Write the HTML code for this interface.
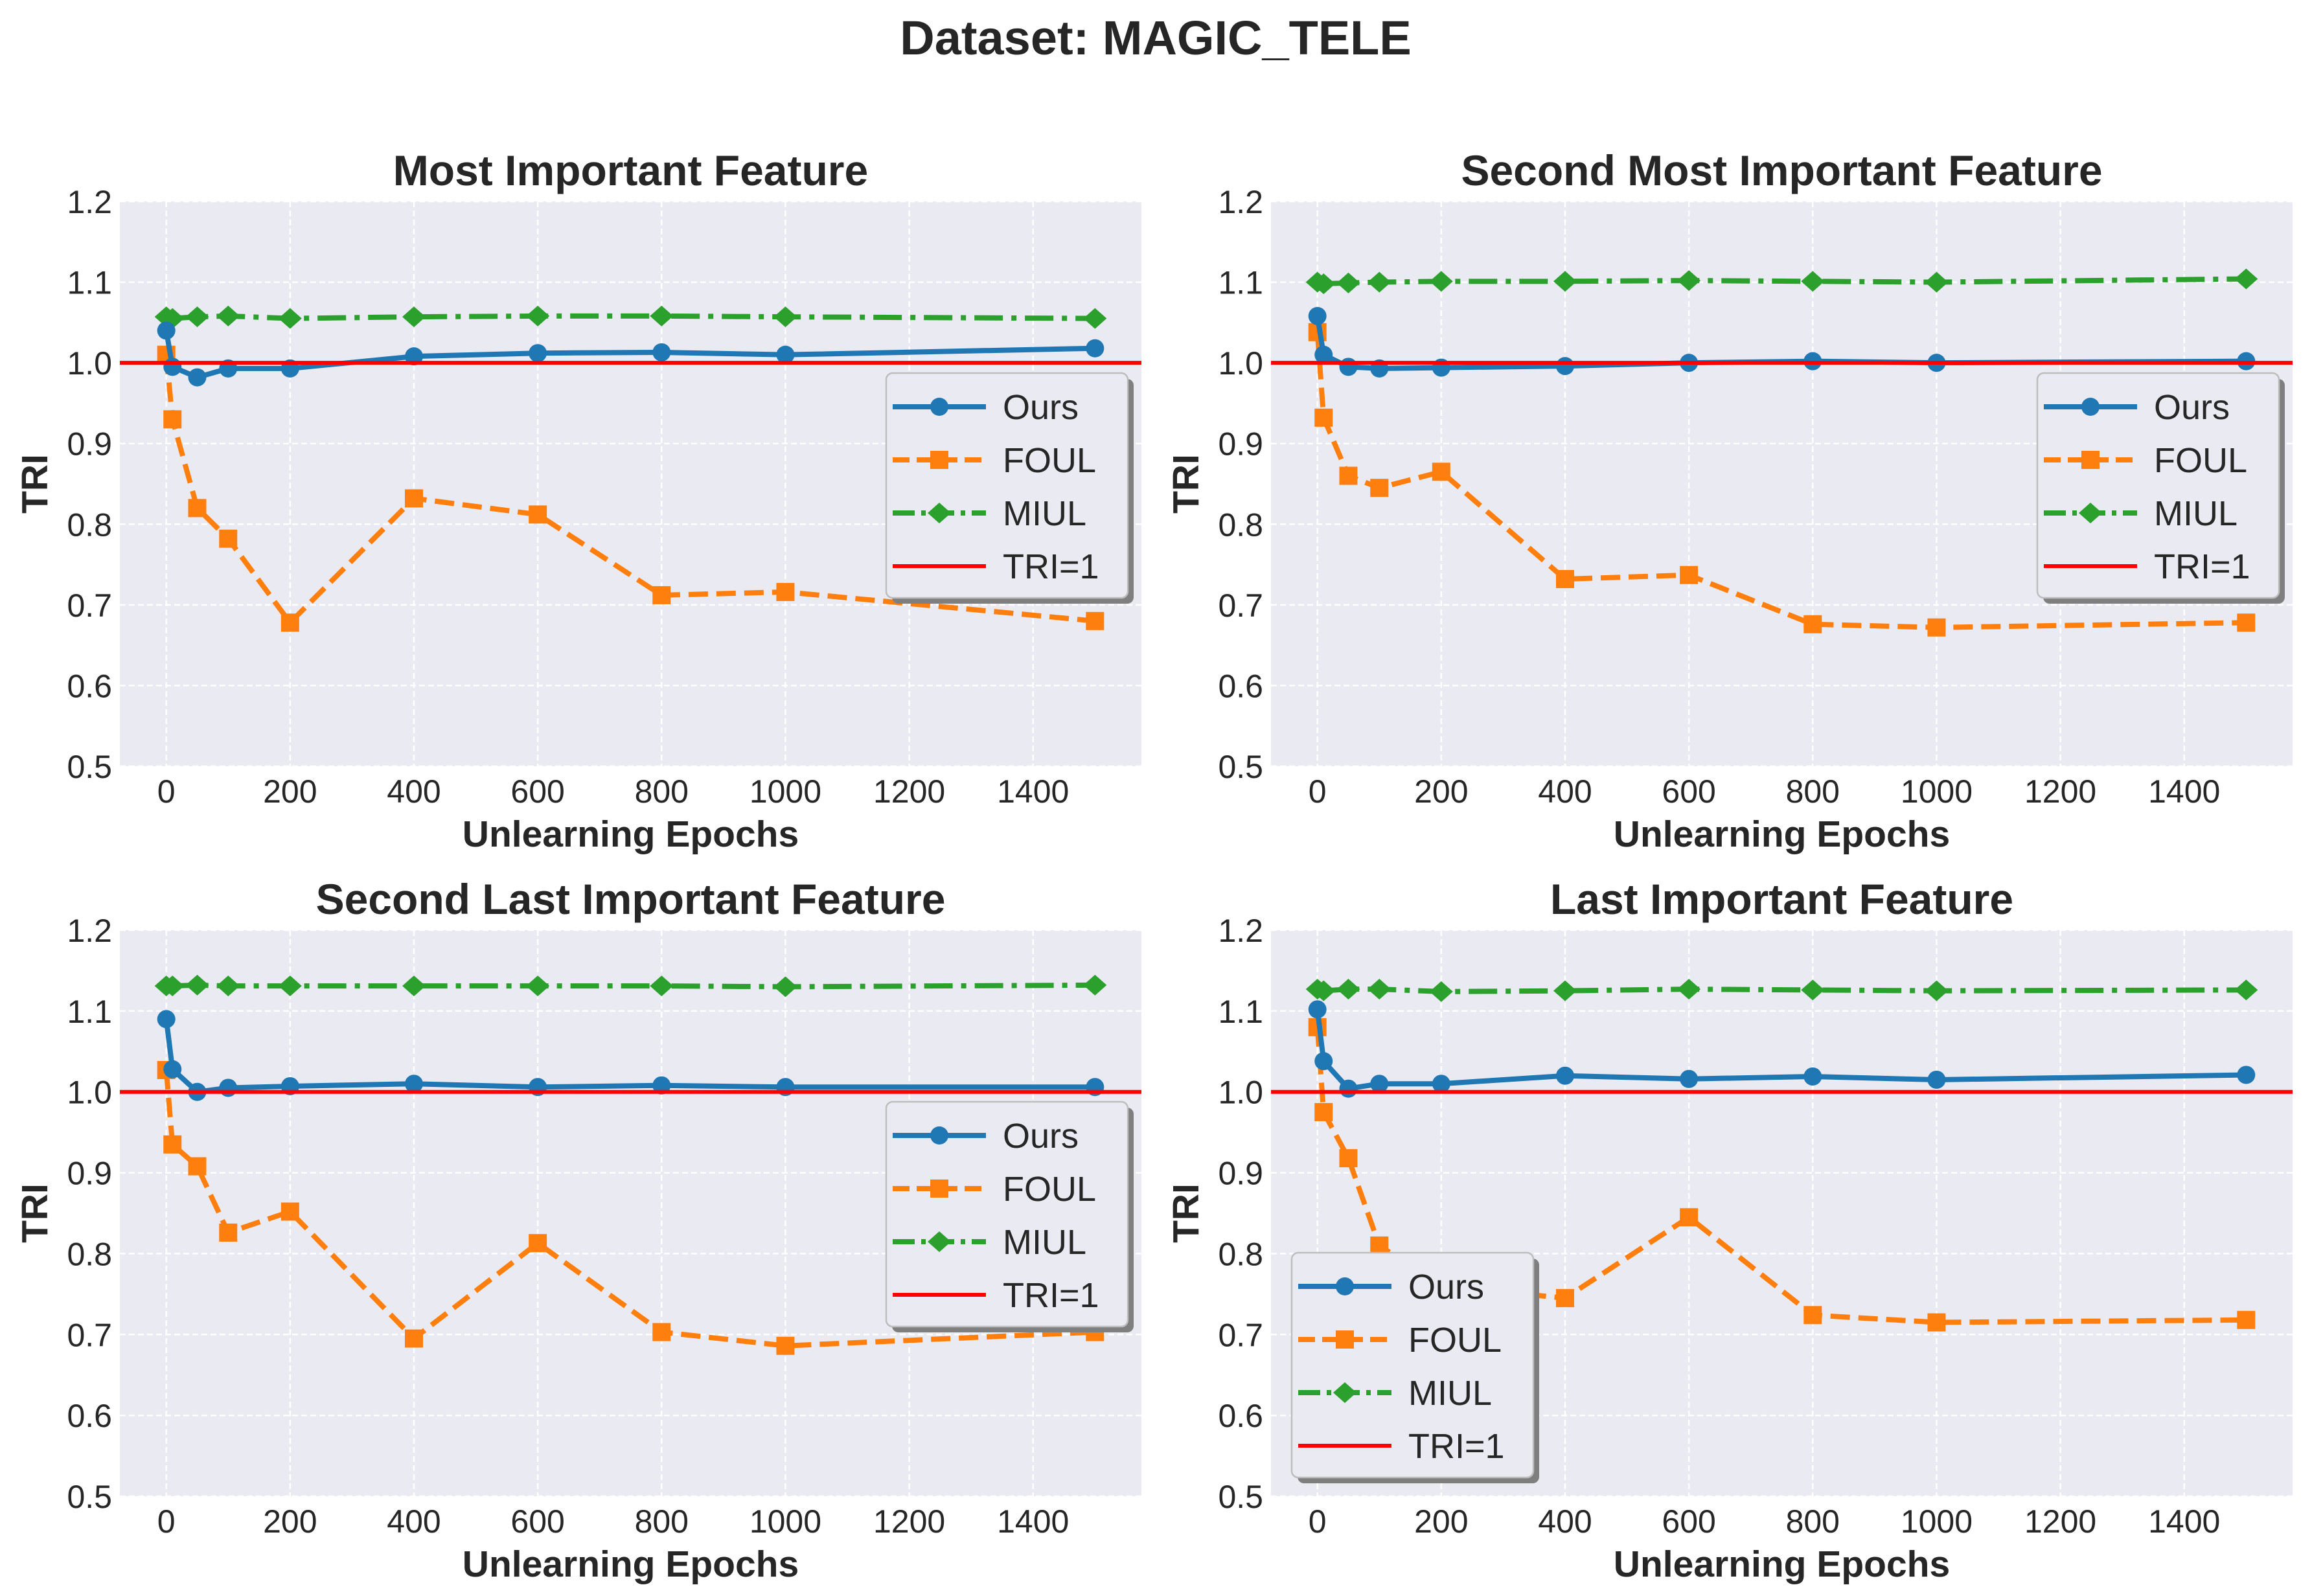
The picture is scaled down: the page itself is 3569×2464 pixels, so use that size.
<!DOCTYPE html>
<html><head><meta charset="utf-8"><style>
html,body{margin:0;padding:0;background:#fff}
svg{display:block;font-family:"Liberation Sans",Arial,sans-serif}
</style></head><body>
<svg id="fig" width="3569" height="2464" viewBox="0 0 3569 2464" xmlns="http://www.w3.org/2000/svg">
<text x="1784" y="84" text-anchor="middle" font-size="74" font-weight="bold" fill="#262626">Dataset: MAGIC_TELE</text>
</svg>
<script>
const epochs = [0,10,50,100,200,400,600,800,1000,1500];
const xTicks = [0,200,400,600,800,1000,1200,1400];
const yTicks = [0.5,0.6,0.7,0.8,0.9,1.0,1.1,1.2];
const titles = ["Most Important Feature","Second Most Important Feature","Second Last Important Feature","Last Important Feature"];
const oursP1 = [1.04,0.995,0.982,0.993,0.993,1.008,1.012,1.013,1.010,1.018];
const foulP1 = [1.01,0.93,0.82,0.782,0.678,0.832,0.812,0.712,0.716,0.68];
const miulP1 = [1.057,1.055,1.057,1.058,1.055,1.057,1.058,1.058,1.057,1.055];
const oursP2 = [1.058,1.01,0.995,0.993,0.994,0.996,1.0,1.002,1.0,1.002];
const foulP2 = [1.038,0.932,0.86,0.845,0.865,0.732,0.737,0.676,0.672,0.678];
const miulP2 = [1.1,1.098,1.099,1.1,1.101,1.101,1.102,1.101,1.1,1.104];
const oursP3 = [1.09,1.028,1.0,1.005,1.007,1.01,1.006,1.008,1.006,1.006];
const foulP3 = [1.027,0.935,0.908,0.826,0.852,0.695,0.813,0.703,0.686,0.703];
const miulP3 = [1.131,1.131,1.132,1.131,1.131,1.131,1.131,1.131,1.13,1.132];
const oursP4 = [1.102,1.038,1.004,1.01,1.01,1.02,1.016,1.019,1.015,1.021];
const foulP4 = [1.08,0.975,0.918,0.81,0.76,0.745,0.845,0.724,0.715,0.718];
const miulP4 = [1.127,1.125,1.127,1.127,1.124,1.125,1.127,1.126,1.125,1.126];
const refValue = 1.0;

const NS="http://www.w3.org/2000/svg";
const svg=document.getElementById('fig');
function mk(tag,attrs,parent){const e=document.createElementNS(NS,tag);for(const k in attrs)e.setAttribute(k,attrs[k]);(parent||svg).appendChild(e);return e;}
const panels=[
 {L:185,T:311,W:1577,H:872,ours:oursP1,foul:foulP1,miul:miulP1,leg:'ur'},
 {L:1962,T:311,W:1577,H:872,ours:oursP2,foul:foulP2,miul:miulP2,leg:'ur'},
 {L:185,T:1436,W:1577,H:874,ours:oursP3,foul:foulP3,miul:miulP3,leg:'ur'},
 {L:1962,T:1436,W:1577,H:874,ours:oursP4,foul:foulP4,miul:miulP4,leg:'ll'}];
const BLUE='#1f77b4',ORANGE='#ff7f0e',GREEN='#2ca02c',RED='#ff0000';
function marker(g,type,cx,cy,color){
  let m;
  if(type==='o') m=mk('circle',{cx,cy,r:14,fill:color},g);
  else if(type==='s') m=mk('rect',{x:cx-14,y:cy-14,width:28,height:28,fill:color},g);
  else m=mk('polygon',{points:`${cx},${cy-16} ${cx+18},${cy} ${cx},${cy+16} ${cx-18},${cy}`,fill:color},g);
  return m;
}
panels.forEach((p,i)=>{
  const g=mk('g',{});
  
  
  const xs=v=>p.L+(v+75)/1650*p.W;
  const ys=v=>p.T+(1.2-v)/0.7*p.H;
  mk('rect',{x:p.L,y:p.T,width:p.W,height:p.H,fill:'#eaeaf2'},g);
  xTicks.forEach(t=>{
    const l=mk('line',{x1:xs(t),x2:xs(t),y1:p.T,y2:p.T+p.H,stroke:'#fff','stroke-width':2.5,'stroke-dasharray':'9,5'},g);
    
    
    const tx=mk('text',{x:xs(t),y:p.T+p.H+56,'text-anchor':'middle','font-size':50,fill:'#262626'},g);
    tx.textContent=t;
    
    
  });
  yTicks.forEach(t=>{
    const l=mk('line',{x1:p.L,x2:p.L+p.W,y1:ys(t),y2:ys(t),stroke:'#fff','stroke-width':2.5,'stroke-dasharray':'9,5'},g);
    
    
    const tx=mk('text',{x:p.L-12,y:ys(t)+18,'text-anchor':'end','font-size':50,fill:'#262626'},g);
    tx.textContent=t.toFixed(1);
    
    
  });
  const ti=mk('text',{x:p.L+p.W/2,y:p.T-25,'text-anchor':'middle','font-size':66,'font-weight':'bold',fill:'#262626'},g);
  ti.textContent=titles[i];
  
  
  const xl=mk('text',{x:p.L+p.W/2,y:p.T+p.H+124,'text-anchor':'middle','font-size':57,'font-weight':'bold',fill:'#262626'},g);
  xl.textContent='Unlearning Epochs';
  
  
  const yx=p.L-112, yy=p.T+p.H/2;
  const yl=mk('text',{x:yx,y:yy,'text-anchor':'middle','font-size':57,'font-weight':'bold',fill:'#262626',transform:`rotate(-90 ${yx} ${yy})`},g);
  yl.textContent='TRI';
  
  
  const cg=mk('g',{},g);
  const series=[
    {d:p.miul,c:GREEN,dash:'44,13,8,13',m:'d',n:'miul-series'},
    {d:p.foul,c:ORANGE,dash:'30,13',m:'s',n:'foul-series'},
    {d:p.ours,c:BLUE,dash:'',m:'o',n:'ours-series'}];
  series.forEach(s=>{
    const sg=mk('g',{},cg);
    
    
    const pts=s.d.map((v,k)=>xs(epochs[k])+','+ys(v)).join(' ');
    const a={points:pts,fill:'none',stroke:s.c,'stroke-width':8,'stroke-linejoin':'round'};
    if(s.dash)a['stroke-dasharray']=s.dash;
    mk('polyline',a,sg);
    s.d.forEach((v,k)=>{
      const m=marker(sg,s.m,xs(epochs[k]),ys(v),s.c);
      
      
    });
  });
  const rl=mk('line',{x1:p.L,x2:p.L+p.W,y1:ys(refValue),y2:ys(refValue),stroke:RED,'stroke-width':6},cg);
  
  
  const LW=373, LH=347;
  const lx = p.leg==='ur' ? p.L+p.W-21-LW : p.L+32;
  const ly = p.leg==='ur' ? p.T+265 : p.T+p.H-29-LH;
  const lg=mk('g',{},g);
  
  
  mk('rect',{x:lx+9,y:ly+9,width:LW,height:LH,rx:10,fill:'#7f7f7f'},lg);
  mk('rect',{x:lx,y:ly,width:LW,height:LH,rx:10,fill:'#eaeaf2',stroke:'#bdbdbd','stroke-width':2.5},lg);
  const entries=[['Ours',BLUE,'','o'],['FOUL',ORANGE,'26,11','s'],['MIUL',GREEN,'34,10,7,10','d'],['TRI=1',RED,'',null]];
  entries.forEach((e,k)=>{
    const eg=mk('g',{},lg);
    
    
    const cy=ly+52+k*82;
    const a={x1:lx+10,x2:lx+154,y1:cy,y2:cy,stroke:e[1],'stroke-width':e[3]?8:6};
    if(e[2])a['stroke-dasharray']=e[2];
    mk('line',a,eg);
    if(e[3])marker(eg,e[3],lx+82,cy,e[1]);
    const t=mk('text',{x:lx+180,y:cy+19,'font-size':54,fill:'#262626'},eg);
    t.textContent=e[0];
  });
});
</script>
</body></html>
